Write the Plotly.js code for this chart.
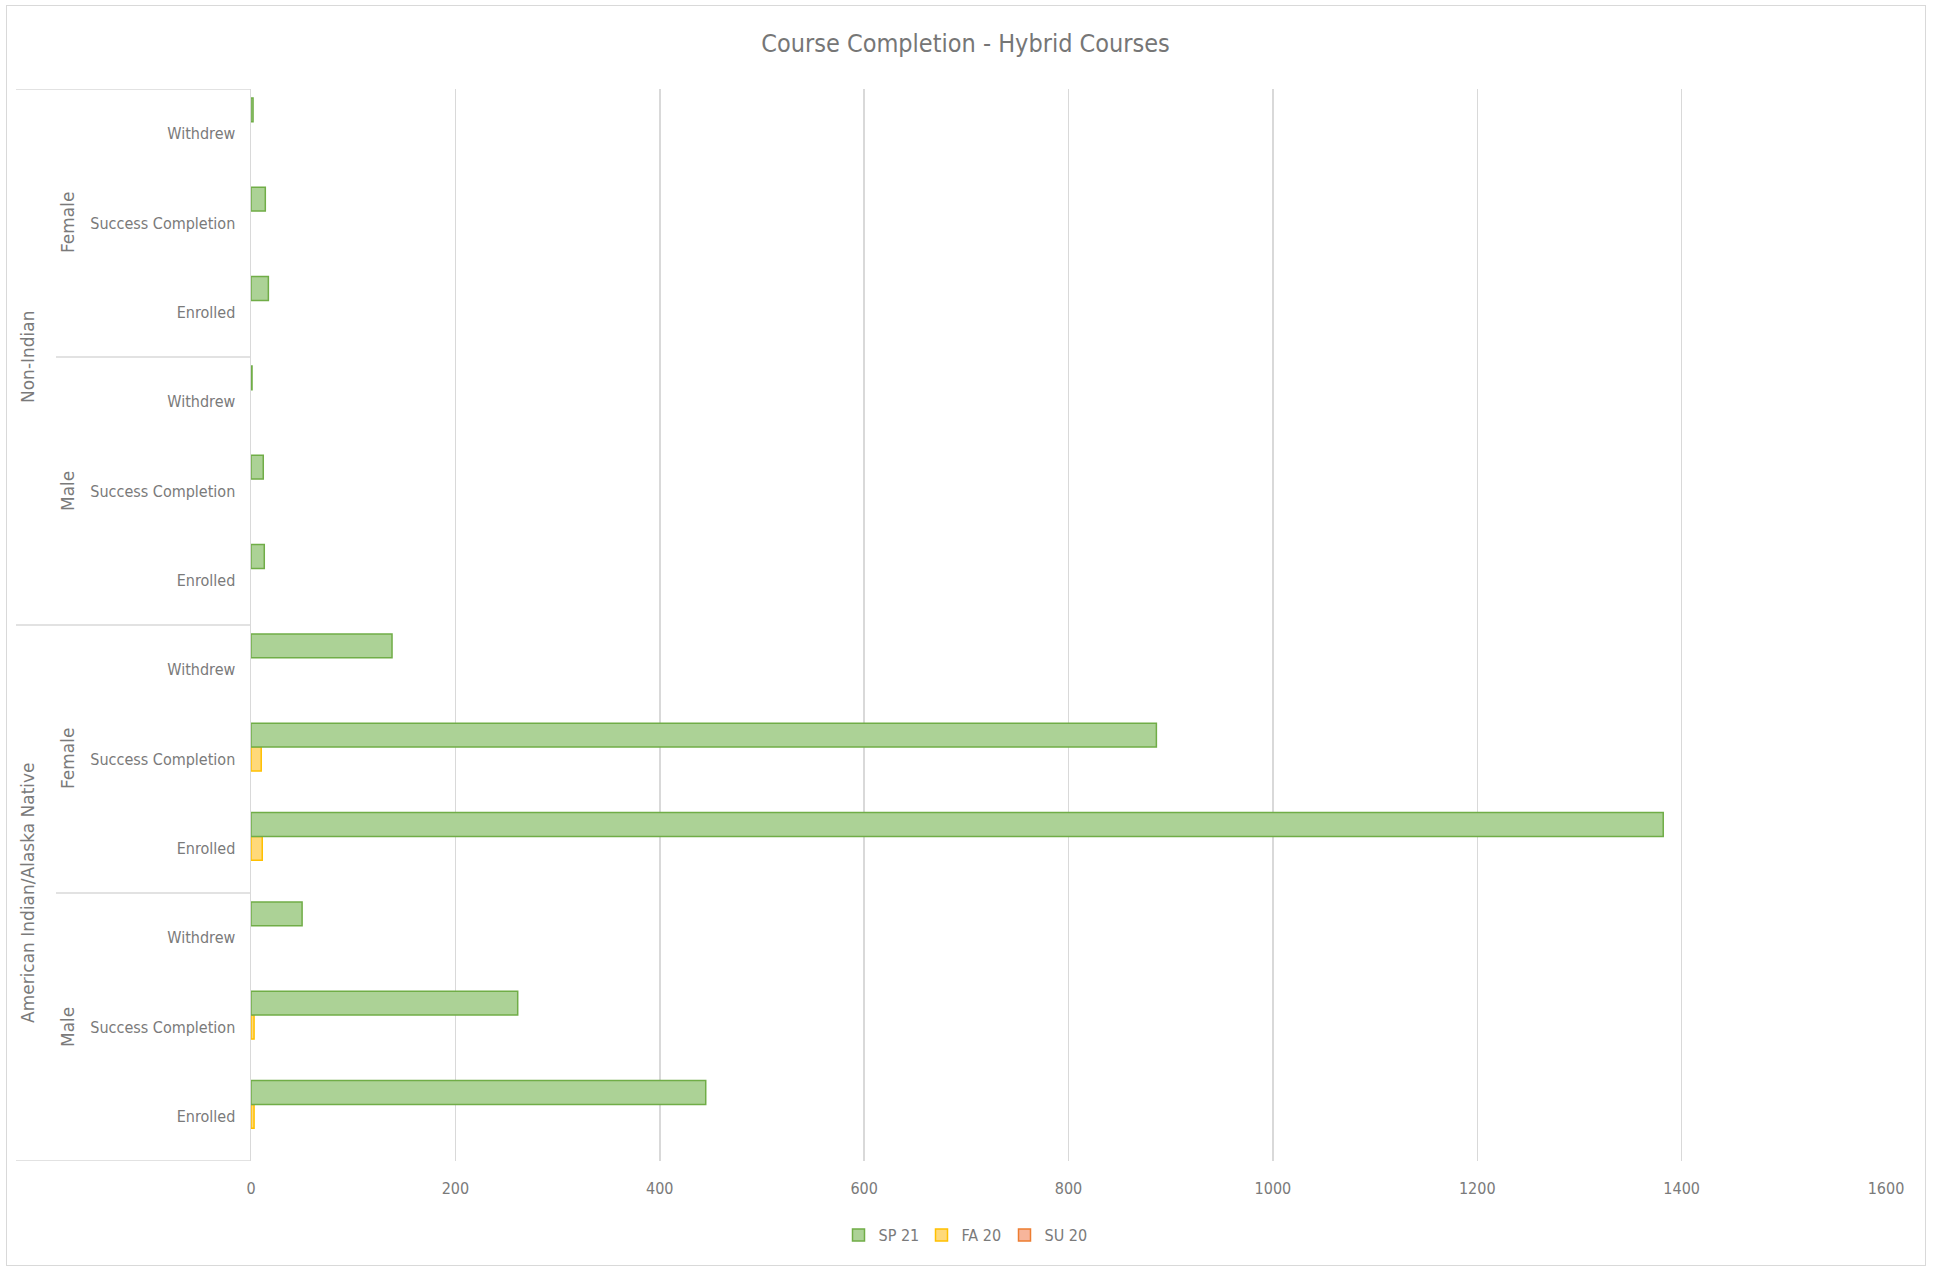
<!DOCTYPE html>
<html>
<head>
<meta charset="utf-8">
<script src="https://cdn.plot.ly/plotly-3.0.1.min.js"></script>
<style>
  html, body { margin: 0; padding: 0; background: #fff; }
  #chart { width: 1935px; height: 1266px; }
  #frame { position: absolute; left: 6px; top: 5px; width: 1918px; height: 1259px; border: 1.5px solid #d9d9d9; pointer-events: none; }
</style>
</head>
<body>
<div id="chart"></div>
<div id="frame"></div>
<script>
// ---- data (bottom-to-top order, as drawn) ----
const races = ['American Indian/Alaska Native', 'Non-Indian'];
const genders = ['Male', 'Female'];
const outcomes = ['Enrolled', 'Success Completion', 'Withdrew'];
const seriesNames = ['SP 21', 'FA 20', 'SU 20'];

// AI Male (E,S,W), AI Female (E,S,W), NI Male (E,S,W), NI Female (E,S,W)
const sp21 = [445, 261, 50, 1382, 886, 138, 13, 12, 1, 17, 14, 2];
const fa20 = [3, 3, 0, 11, 10, 0, 0, 0, 0, 0, 0, 0];
const su20 = [0, 0, 0, 0, 0, 0, 0, 0, 0, 0, 0, 0];

const xTicks = [0, 200, 400, 600, 800, 1000, 1200, 1400, 1600];
const title = 'Course Completion - Hybrid Courses';

// ---- build category keys ----
const keys = [], labels = [];
races.forEach(r => genders.forEach(g => outcomes.forEach(o => {
  keys.push(r + '|' + g + '|' + o);
  labels.push(o);
})));

const FONT = '"Liberation Sans Narrow", "Arial Narrow", "DejaVu Sans Condensed", sans-serif';
const GRAY = '#7a7a7a';
const LINE = '#d9d9d9';

const styles = {
  'SP 21': { fill: '#acd296', line: '#70ad47' },
  'FA 20': { fill: '#ffd97a', line: '#ffc000' },
  'SU 20': { fill: '#f7b59b', line: '#ed7d31' }
};
const vals = { 'SP 21': sp21, 'FA 20': fa20, 'SU 20': su20 };

// plotly places group members bottom-up; draw SU 20 first so SP 21 is on top
// zero values are left empty (as in the source chart) so no outline is drawn
const traces = ['SU 20', 'FA 20', 'SP 21'].map(n => ({
  type: 'bar', orientation: 'h', name: n,
  y: keys, x: vals[n].map(v => v > 0 ? v : null),
  marker: { color: styles[n].fill, line: { color: styles[n].line, width: 1.5 } },
  hoverinfo: 'x+name'
}));

// group labels & separators
const annotations = [];
const shapes = [];
const rotFont = { family: '"DejaVu Sans", sans-serif', size: 17, color: GRAY };
races.forEach((r, ri) => {
  const base = ri * 6;
  annotations.push({ text: r, xref: 'paper', yref: 'y', x: 0, xshift: -223, y: base + 2.5,
    textangle: -90, showarrow: false, font: rotFont, xanchor: 'center', yanchor: 'middle' });
  genders.forEach((g, gi) => {
    annotations.push({ text: g, xref: 'paper', yref: 'y', x: 0, xshift: -183, y: base + gi * 3 + 1,
      textangle: -90, showarrow: false, font: rotFont, xanchor: 'center', yanchor: 'middle' });
  });
});
const plotW = 1635;
const xOuter = (16 - 251) / plotW, xInner = (56 - 251) / plotW;
[-0.5, 5.5, 11.5].forEach(v => shapes.push({ type: 'line', xref: 'paper', yref: 'y', x0: xOuter, x1: 0, y0: v, y1: v, line: { color: LINE, width: 1.5 } }));
[2.5, 8.5].forEach(v => shapes.push({ type: 'line', xref: 'paper', yref: 'y', x0: xInner, x1: 0, y0: v, y1: v, line: { color: LINE, width: 1.5 } }));

const layout = {
  width: 1935, height: 1266,
  margin: { l: 251, r: 49, t: 89, b: 105 },
  paper_bgcolor: '#fff', plot_bgcolor: '#fff',
  font: { family: FONT, color: GRAY, size: 16 },
  title: { text: title, font: { family: FONT, size: 25, color: '#767676' },
    xref: 'container', x: 0.499, yref: 'container', y: 1 - 43 / 1266, xanchor: 'center', yanchor: 'middle' },
  barmode: 'group', bargap: 0.2, bargroupgap: 0,
  xaxis: { range: [0, 1600], tickvals: xTicks, ticktext: xTicks.map(String), showgrid: true, gridcolor: LINE, gridwidth: 1.5,
    zeroline: false, showline: false, ticks: '', ticklabelstandoff: 16, tickfont: { size: 16, color: GRAY }, fixedrange: true },
  yaxis: { type: 'category', categoryorder: 'array', categoryarray: keys, tickvals: keys, ticktext: labels,
    range: [-0.5, 11.5], showgrid: false, zeroline: false, showline: true, linecolor: LINE, linewidth: 1.5,
    ticks: '', ticklabelstandoff: 11, tickfont: { size: 16, color: GRAY }, fixedrange: true },
  legend: { orientation: 'h', traceorder: 'reversed', xref: 'container', x: 963 / 1935, xanchor: 'center',
    yref: 'container', y: 1 - 1235 / 1266, yanchor: 'middle', font: { size: 16, color: GRAY },
    itemwidth: 30, entrywidth: 38, entrywidthmode: 'pixels' },
  annotations: annotations,
  shapes: shapes,
  showlegend: true
};

Plotly.newPlot('chart', traces, layout, { displayModeBar: false, staticPlot: true });
</script>
</body>
</html>
